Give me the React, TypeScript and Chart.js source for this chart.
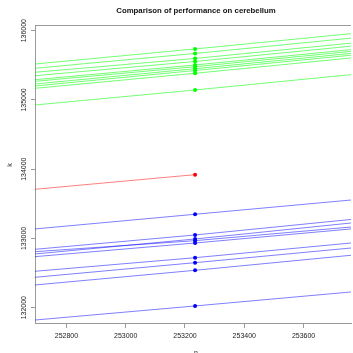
import React, { useEffect, useRef } from "react";
import { Chart, registerables } from "chart.js";
Chart.register(...registerables);

// Axis ranges (data units)
const N_MIN = 252694;
const N_MAX = 253760;
const N_RUN = 253234;
const K_MIN = 131779;
const K_MAX = 136082;

const xTickValues = [252800, 253000, 253200, 253400, 253600];
const yTickValues = [132000, 133000, 134000, 135000, 136000];

const TITLE = "Comparison of performance on cerebellum";
const X_LABEL = "n";
const Y_LABEL = "k";

// Green series: k at left edge, at the run point, at right edge
const greenLeft = [135519, 135457, 135399, 135350, 135292, 135269, 135230, 135201, 135168, 134927];
const greenPoint = [135736, 135671, 135599, 135555, 135505, 135480, 135451, 135425, 135385, 135144];
const greenRight = [135957, 135892, 135820, 135776, 135726, 135701, 135672, 135646, 135606, 135365];

// Red series (ends at the run point)
const redLeft = [133710];
const redPoint = [133921];

// Blue series
const blueLeft = [133137, 132843, 132809, 132776, 132737, 132526, 132439, 132328, 131822];
const bluePoint = [133349, 133050, 132968, 132992, 132934, 132722, 132650, 132540, 132025];
const blueRight = [133555, 133274, 133165, 133223, 133137, 132934, 132862, 132757, 132227];

const FONT = '"Liberation Sans", Arial, Helvetica, sans-serif';

function makeSet(left: number, point: number, right: number | null, line: string, dot: string) {
  const data: { x: number; y: number }[] = [
    { x: N_MIN, y: left },
    { x: N_RUN, y: point },
  ];
  const radii = [0, 2];
  if (right !== null) {
    data.push({ x: N_MAX, y: right });
    radii.push(0);
  }
  return {
    type: "line" as const,
    data,
    borderColor: line,
    borderWidth: 1,
    pointRadius: radii,
    pointHoverRadius: radii,
    pointBackgroundColor: dot,
    pointBorderColor: dot,
    pointBorderWidth: 0,
    tension: 0,
    fill: false,
  };
}

const decor = {
  id: "decor",
  afterDraw(chart: any) {
    const { ctx, chartArea } = chart;
    const ys = chart.scales.y;
    ctx.save();
    // top border of the box
    ctx.strokeStyle = "#9a9a9a";
    ctx.lineWidth = 1;
    ctx.beginPath();
    ctx.moveTo(chartArea.left, chartArea.top + 0.5);
    ctx.lineTo(chartArea.right, chartArea.top + 0.5);
    ctx.stroke();

    ctx.fillStyle = "#222";
    // y tick labels (rotated)
    ctx.font = `7px ${FONT}`;
    ctx.textAlign = "center";
    ctx.textBaseline = "middle";
    for (const v of yTickValues) {
      const y = ys.getPixelForValue(v);
      ctx.save();
      ctx.translate(24.5, y);
      ctx.rotate(-Math.PI / 2);
      ctx.fillText(String(v), 0, 0);
      ctx.restore();
    }
    // y axis label
    ctx.save();
    ctx.translate(10.5, 165);
    ctx.rotate(-Math.PI / 2);
    ctx.fillText(Y_LABEL, 0, 0);
    ctx.restore();
    // x axis label
    ctx.textBaseline = "alphabetic";
    ctx.fillText(X_LABEL, 196, 354.5);
    // title
    ctx.font = `bold 7.8px ${FONT}`;
    ctx.fillStyle = "#111";
    ctx.textBaseline = "middle";
    ctx.fillText(TITLE, 196, 10.5);
    ctx.restore();
  },
};

export default function App() {
  const ref = useRef<HTMLCanvasElement | null>(null);
  useEffect(() => {
    document.body.style.margin = "0";
    const canvas = ref.current;
    if (!canvas) return;
    const datasets: any[] = [];
    greenLeft.forEach((l, i) =>
      datasets.push(makeSet(l, greenPoint[i], greenRight[i], "rgba(0,255,0,0.55)", "#00ff00"))
    );
    redLeft.forEach((l, i) => datasets.push(makeSet(l, redPoint[i], null, "rgba(255,0,0,0.5)", "#ff0000")));
    blueLeft.forEach((l, i) =>
      datasets.push(makeSet(l, bluePoint[i], blueRight[i], "rgba(0,0,255,0.5)", "#0000ff"))
    );
    const chart = new Chart(canvas, {
      type: "line",
      data: { datasets },
      options: {
        animation: false,
        responsive: false,
        devicePixelRatio: 1,
        layout: { padding: { top: 25, left: 0, right: 0, bottom: 0 } },
        plugins: { legend: { display: false }, tooltip: { enabled: false }, title: { display: false } },
        scales: {
          x: {
            type: "linear",
            min: N_MIN,
            max: N_MAX,
            afterFit: (s: any) => {
              s.height = 30;
            },
            afterBuildTicks: (s: any) => {
              s.ticks = xTickValues.map((v) => ({ value: v }));
            },
            ticks: {
              font: { family: FONT, size: 7 },
              color: "#222",
              padding: 4,
              maxRotation: 0,
              minRotation: 0,
              callback: (v: any) => String(v),
            },
            grid: { display: true, drawOnChartArea: false, drawTicks: true, tickLength: 5, color: "#9a9a9a" },
            border: { display: true, color: "#9a9a9a", width: 1 },
          },
          y: {
            type: "linear",
            min: K_MIN,
            max: K_MAX,
            afterFit: (s: any) => {
              s.width = 35;
            },
            afterBuildTicks: (s: any) => {
              s.ticks = yTickValues.map((v) => ({ value: v }));
            },
            ticks: { display: false },
            grid: { display: true, drawOnChartArea: false, drawTicks: true, tickLength: 4, color: "#9a9a9a" },
            border: { display: true, color: "#9a9a9a", width: 1 },
          },
        },
      } as any,
      plugins: [decor],
    });
    return () => chart.destroy();
  }, []);
  return <canvas ref={ref} width={353} height={353} style={{ display: "block", width: 353, height: 353 }} />;
}
